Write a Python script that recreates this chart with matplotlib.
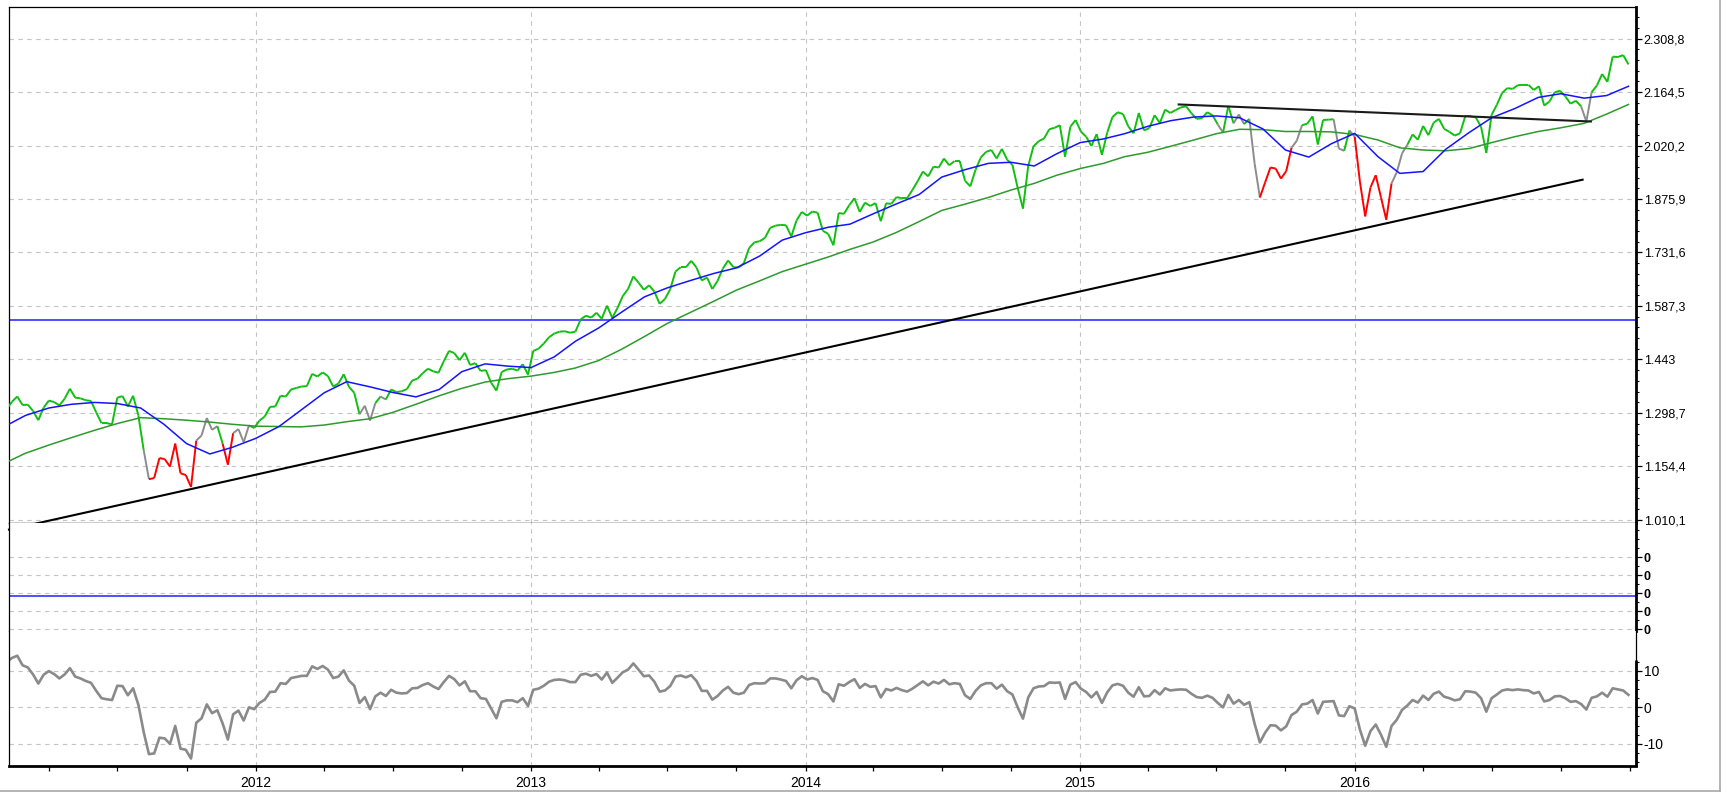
import numpy as np
import pandas as pd
import matplotlib
matplotlib.use('Agg')
import matplotlib.pyplot as plt
import matplotlib.dates as mdates
from matplotlib.collections import LineCollection
from matplotlib.lines import Line2D
from matplotlib.ticker import FixedLocator, FuncFormatter

# weekly closes (Fridays), one list per year
px_2011 = [1310, 1329, 1343, 1320, 1321, 1304, 1279, 1313, 1332, 1328, 1319, 1337, 1364, 1340, 1338, 1333,
           1331, 1300, 1271, 1271, 1268, 1340, 1344, 1316, 1345, 1292, 1199, 1120, 1123, 1177, 1174, 1154,
           1216, 1136, 1131, 1099, 1224, 1238, 1285, 1253, 1263, 1216, 1159, 1244, 1255, 1220, 1265, 1258]
px_2012 = [1278, 1289, 1315, 1316, 1345, 1343, 1362, 1366, 1370, 1371, 1404, 1397, 1408, 1398, 1370, 1378,
           1403, 1369, 1353, 1295, 1318, 1278, 1325, 1343, 1335, 1362, 1355, 1357, 1363, 1386, 1391, 1406,
           1418, 1411, 1407, 1438, 1466, 1460, 1441, 1461, 1428, 1433, 1412, 1414, 1380, 1359, 1409, 1416,
           1418, 1413, 1430, 1402]
px_2013 = [1466, 1472, 1486, 1503, 1513, 1518, 1519, 1515, 1518, 1551, 1561, 1556, 1569, 1553, 1588, 1555,
           1582, 1614, 1633, 1667, 1650, 1631, 1643, 1626, 1593, 1606, 1632, 1680, 1692, 1692, 1709, 1691,
           1656, 1664, 1633, 1655, 1688, 1710, 1692, 1691, 1703, 1744, 1759, 1762, 1771, 1798, 1804, 1806,
           1805, 1775, 1818, 1841]
px_2014 = [1831, 1842, 1839, 1790, 1782, 1751, 1838, 1836, 1859, 1878, 1841, 1866, 1857, 1865, 1816, 1864,
           1863, 1881, 1878, 1878, 1900, 1924, 1950, 1937, 1963, 1961, 1985, 1967, 1978, 1978, 1925, 1910,
           1955, 1988, 2003, 2008, 1985, 2011, 1982, 1968, 1906, 1850, 1965, 2018, 2032, 2039, 2064, 2068,
           2075, 1990, 2071, 2089]
px_2015 = [2058, 2044, 2019, 2051, 1995, 2055, 2097, 2110, 2105, 2072, 2053, 2108, 2061, 2067, 2102, 2081,
           2117, 2108, 2116, 2123, 2126, 2107, 2092, 2094, 2110, 2102, 2077, 2055, 2127, 2080, 2104, 2078,
           2092, 1971, 1880, 1921, 1961, 1958, 1931, 1951, 2014, 2033, 2075, 2079, 2099, 2023, 2089, 2090,
           2091, 2012, 2006, 2061]
px_2016 = [2044, 1922, 1829, 1907, 1940, 1880, 1820, 1918, 1948, 1999, 2022, 2050, 2036, 2073, 2048, 2082,
           2092, 2065, 2057, 2047, 2053, 2099, 2099, 2096, 2071, 2000, 2103, 2130, 2162, 2175, 2173, 2183,
           2184, 2184, 2170, 2180, 2128, 2139, 2164, 2168, 2153, 2133, 2141, 2126, 2085, 2164, 2182, 2213,
           2192, 2260, 2259, 2264, 2239]

# lower oscillator, same weeks
osc_2011 = [12.4, 13.5, 14.1, 11.5, 10.9, 9.0, 6.5, 8.9, 9.9, 9.1, 7.9, 9.0, 10.7, 8.4, 7.9, 7.2,
            6.7, 4.5, 2.5, 2.2, 2.0, 5.9, 5.8, 3.3, 5.2, 0.7, -6.7, -12.8, -12.6, -8.3, -8.5, -10.0,
            -5.1, -11.3, -11.6, -14.0, -4.2, -3.0, 0.8, -1.6, -0.8, -4.4, -8.8, -1.9, -0.9, -3.6, 0.0, -0.5]
osc_2012 = [1.2, 2.1, 4.2, 4.3, 6.6, 6.4, 8.0, 8.3, 8.6, 8.6, 11.2, 10.5, 11.3, 10.3, 8.0, 8.4,
            10.1, 7.3, 5.9, 1.2, 2.8, -0.5, 3.0, 4.0, 3.1, 4.8, 4.0, 3.8, 3.9, 5.2, 5.3, 6.1,
            6.6, 5.7, 5.0, 6.9, 8.6, 7.7, 6.0, 7.1, 4.4, 4.4, 2.5, 2.3, -0.3, -3.0, 1.5, 1.9,
            1.9, 1.4, 2.5, 0.4]
osc_2013 = [4.8, 5.1, 5.9, 7.0, 7.5, 7.6, 7.4, 6.9, 6.9, 8.9, 9.2, 8.6, 9.1, 7.6, 9.5, 6.7,
            8.1, 9.6, 10.3, 12.0, 10.3, 8.5, 8.7, 7.0, 4.3, 4.6, 5.8, 8.4, 8.7, 8.2, 8.8, 7.2,
            4.5, 4.5, 2.1, 3.1, 4.6, 5.6, 4.0, 3.6, 4.0, 6.1, 6.6, 6.5, 6.6, 7.9, 7.9, 7.6,
            7.2, 5.2, 7.4, 8.5]
osc_2014 = [7.6, 8.0, 7.5, 4.4, 3.6, 1.6, 6.3, 5.9, 6.9, 7.7, 5.3, 6.4, 5.6, 5.8, 2.7, 5.0,
            4.6, 5.3, 4.7, 4.3, 5.1, 6.1, 7.1, 6.0, 7.0, 6.5, 7.5, 6.3, 6.6, 6.4, 3.3, 2.3,
            4.5, 6.0, 6.6, 6.6, 5.1, 6.2, 4.4, 3.5, 0.0, -3.1, 2.7, 5.2, 5.7, 5.8, 6.8, 6.7,
            6.8, 2.3, 6.2, 6.9]
osc_2015 = [5.1, 4.2, 2.7, 4.2, 1.2, 4.1, 6.0, 6.4, 5.9, 4.0, 2.9, 5.5, 3.0, 3.1, 4.7, 3.5,
            5.2, 4.6, 4.8, 4.9, 4.8, 3.7, 2.8, 2.6, 3.2, 2.6, 1.2, 0.0, 3.4, 1.0, 2.0, 0.7,
            1.4, -4.5, -9.6, -6.9, -4.9, -5.0, -6.3, -5.2, -2.1, -1.2, 0.8, 1.0, 2.0, -1.7, 1.5, 1.6,
            1.7, -2.2, -2.4, 0.3]
osc_2016 = [-0.3, -6.1, -10.5, -6.5, -4.7, -7.5, -10.8, -5.1, -3.4, -0.7, 0.5, 2.0, 1.3, 3.2, 2.0, 3.7,
            4.3, 2.9, 2.5, 1.9, 2.2, 4.4, 4.3, 4.0, 2.5, -1.2, 2.5, 3.5, 4.6, 4.9, 4.7, 4.9,
            4.7, 4.6, 3.8, 4.2, 1.6, 2.0, 3.0, 3.1, 2.5, 1.5, 1.7, 0.9, -0.6, 2.6, 3.0, 4.0,
            2.9, 5.2, 4.9, 4.6, 3.4]

first_friday = ['2011-02-04', '2012-01-06', '2013-01-04', '2014-01-03', '2015-01-02', '2016-01-01']
px_years = [px_2011, px_2012, px_2013, px_2014, px_2015, px_2016]
osc_years = [osc_2011, osc_2012, osc_2013, osc_2014, osc_2015, osc_2016]

# colour regimes of the price line: g=trend up, r=trend down, y=neutral
regime_start = ['2011-01-01', '2011-08-08', '2011-08-15', '2011-10-17', '2011-11-14', '2011-11-21',
                '2011-12-05', '2011-12-26', '2012-05-21', '2012-06-11', '2012-06-18', '2012-06-25',
                '2015-07-06', '2015-07-13', '2015-07-27', '2015-08-10', '2015-08-17', '2015-08-31',
                '2015-10-12', '2015-10-26', '2015-12-07', '2015-12-21', '2015-12-28', '2016-01-04',
                '2016-02-22', '2016-03-14', '2016-10-31', '2016-11-14']
regime_col = ['g', 'y', 'r', 'y', 'g', 'r', 'y', 'g', 'y', 'g', 'y', 'g',
              'y', 'g', 'y', 'g', 'y', 'r', 'y', 'g', 'y', 'g', 'y', 'r',
              'y', 'g', 'y', 'g']

# moving averages, first of each month + last day
ma50 = [1262, 1292, 1312, 1322, 1327, 1324, 1312, 1268, 1216, 1188, 1206,
        1230, 1262, 1306, 1353, 1383, 1369, 1354, 1342, 1362, 1410, 1431, 1425,
        1421, 1450, 1492, 1528, 1570, 1612, 1636, 1656, 1675, 1690, 1722, 1765,
        1785, 1800, 1808, 1836, 1862, 1888, 1935, 1955, 1972, 1975, 1965, 1998,
        2028, 2038, 2052, 2072, 2087, 2097, 2100, 2095, 2065, 2008, 1989, 2025,
        2053, 1990, 1945, 1950, 2010, 2055, 2095, 2120, 2150, 2160, 2148, 2155,
        2180]
ma200 = [1163, 1190, 1212, 1232, 1252, 1270, 1286, 1283, 1279, 1274, 1268,
         1263, 1262, 1261, 1266, 1275, 1283, 1300, 1322, 1345, 1365, 1382, 1391,
         1398, 1408, 1420, 1440, 1470, 1505, 1540, 1570, 1600, 1630, 1655, 1680,
         1700, 1720, 1740, 1760, 1785, 1815, 1845, 1862, 1880, 1900, 1918, 1940,
         1958, 1972, 1990, 2002, 2018, 2035, 2052, 2064, 2063, 2058, 2058, 2057,
         2050, 2035, 2014, 2008, 2006, 2012, 2028, 2044, 2058, 2068, 2080, 2105,
         2131]

support = (['2011-02-07', '2016-10-30'], [984, 1928])
resistance = (['2015-05-12', '2016-11-10'], [2131, 2085])
h_level = 1550

main_ticks = [1010.1 + 144.3 * k for k in range(10)]
year_ticks = ['2012-01-01', '2013-01-01', '2014-01-01', '2015-01-01', '2016-01-01']

# ---------------------------------------------------------------
dates = pd.DatetimeIndex(np.concatenate([
    pd.date_range(d, periods=len(v), freq='7D').values for d, v in zip(first_friday, px_years)]))
price = np.concatenate(px_years).astype(float)
osc = np.concatenate(osc_years).astype(float)
ma_dates = list(pd.date_range('2011-02-01', '2016-12-01', freq='MS')) + [pd.Timestamp('2016-12-30')]

x = mdates.date2num(dates)
xm = mdates.date2num(ma_dates)
idx = np.searchsorted(pd.to_datetime(regime_start).values, dates.values, side='right') - 1
pcol = [regime_col[i] for i in idx]
cmap = {'g': '#10c010', 'r': '#ff0000', 'y': '#8c8c8c'}

W, H = 1727, 794
L, R = 9, 1636
fig = plt.figure(figsize=(W / 100, H / 100), dpi=100)
plt.rcParams['font.family'] = ['Liberation Sans', 'DejaVu Sans']


def box(top, bottom):
    return [L / W, 1 - bottom / H, (R - L) / W, (bottom - top) / H]


ax1 = fig.add_axes(box(6.6, 522.7))
ax2 = fig.add_axes(box(522.7, 630.5), sharex=ax1)
ax3 = fig.add_axes(box(630.5, 765.5), sharex=ax1)

gridkw = dict(color='#c4c4c4', linestyle=(0, (4, 4)), linewidth=0.8)
for ax in (ax1, ax2, ax3):
    ax.set_facecolor('white')
    ax.yaxis.tick_right()
    ax.tick_params(axis='y', which='both', direction='out', right=True, left=False,
                   labelright=True, labelleft=False, labelsize=9, pad=1.5, colors='black')
    ax.tick_params(axis='y', which='major', length=4, width=0.9)
    ax.tick_params(axis='y', which='minor', length=2.5, width=0.8)
    ax.grid(True, which='major', **gridkw)
    ax.set_axisbelow(True)
    ax.spines['left'].set_linewidth(0.9)
    ax.spines['right'].set_linewidth(2.0)

# main price panel
segs = np.stack([np.column_stack([x[:-1], price[:-1]]), np.column_stack([x[1:], price[1:]])], axis=1)
lc = LineCollection(segs, colors=[cmap[c] for c in pcol[1:]], linewidths=1.4, zorder=3)
ax1.add_collection(lc)
ax1.plot(xm, ma200, color='#2e9a2e', lw=1.1, zorder=4)
ax1.plot(xm, ma50, color='#1414ff', lw=1.1, zorder=4)
ax1.axhline(h_level, color='#1f1fff', lw=1.1, zorder=2)
ax1.plot(mdates.date2num(pd.to_datetime(support[0])), support[1], color='black', lw=1.5,
         zorder=5, clip_on=False)
ax1.plot(mdates.date2num(pd.to_datetime(resistance[0])), resistance[1], color='#1a1a1a', lw=1.5,
         zorder=5)
ax1.set_ylim(1002.5, 2395.0)
ax1.yaxis.set_major_locator(FixedLocator(main_ticks))
ax1.yaxis.set_minor_locator(FixedLocator([1010.1 + 28.86 * j for j in range(0, 49)]))


def de_fmt(v, pos):
    s = f"{v:,.1f}".replace(',', 'X').replace('.', ',').replace('X', '.')
    return s[:-2] if s.endswith(',0') else s


ax1.yaxis.set_major_formatter(FuncFormatter(de_fmt))
ax1.spines['top'].set_linewidth(0.9)
ax1.spines['bottom'].set_linewidth(1.0)
ax1.tick_params(axis='x', which='both', bottom=False, labelbottom=False)

# middle (empty) panel
ax2.axhline(1.85, color='#1f1fff', lw=1.1)
ax2.set_ylim(-0.067, 5.92)
ax2.yaxis.set_major_locator(FixedLocator([0, 1, 2, 3, 4]))
ax2.yaxis.set_minor_locator(FixedLocator([0.5, 1.5, 2.5, 3.5, 4.5, 5.0, 5.5]))
ax2.yaxis.set_major_formatter(FuncFormatter(lambda v, p: '0'))
for t in ax2.get_yticklabels():
    t.set_fontweight('bold')
ax2.spines['top'].set_visible(False)
ax2.spines['bottom'].set_visible(False)
ax2.tick_params(axis='x', which='both', bottom=False, labelbottom=False)

# oscillator panel
ax3.plot(x, osc, color='#8a8a8a', lw=1.9)
ax3.set_ylim(-15.9, 21.0)
ax3.yaxis.set_major_locator(FixedLocator([-10, 0, 10]))
ax3.yaxis.set_minor_locator(FixedLocator([-15, -12.5, -7.5, -5, -2.5, 2.5, 5, 7.5, 12.5]))
ax3.yaxis.set_major_formatter(FuncFormatter(lambda v, p: f"{v:.0f}".replace('\u2212', '-')))
ax3.tick_params(axis='y', which='major', labelsize=10)
ax3.spines['top'].set_visible(False)
ax3.spines['right'].set_linewidth(0.9)
ax3.plot([1, 1], [-15.9, 12.9], color='black', lw=2.0, transform=ax3.get_yaxis_transform(),
         clip_on=False, solid_capstyle='butt')
ax3.spines['bottom'].set_linewidth(2.0)
ax3.xaxis.set_major_locator(FixedLocator(mdates.date2num(pd.to_datetime(year_ticks))))
ax3.xaxis.set_minor_locator(mdates.MonthLocator(bymonth=[1, 4, 7, 10]))
ax3.xaxis.set_major_formatter(mdates.DateFormatter('%Y'))
ax3.tick_params(axis='x', which='both', direction='out', length=3.5, width=0.9, labelsize=10,
                pad=4, colors='black')

ax1.set_xlim(mdates.date2num(pd.Timestamp('2011-02-07')), mdates.date2num(pd.Timestamp('2017-01-09')))

# window frame
fig.add_artist(Line2D([1720 / W, 1720 / W], [1 - 791 / H, 1], color='#a8a8a8', lw=1.2,
                      transform=fig.transFigure))
fig.add_artist(Line2D([0, 1720 / W], [1 - 791 / H, 1 - 791 / H], color='#a8a8a8', lw=1.2,
                      transform=fig.transFigure))

fig.savefig('out.png', dpi=100, facecolor='white')
